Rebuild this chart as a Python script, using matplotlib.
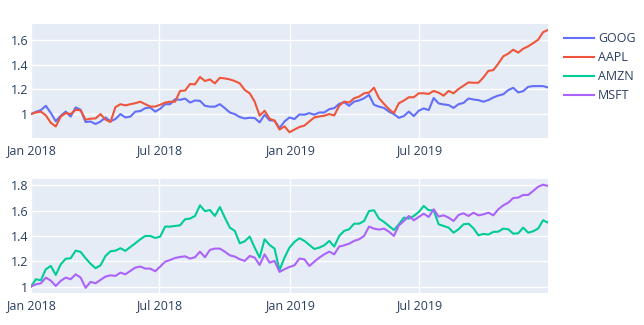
import pandas as pd
import matplotlib.pyplot as plt
import matplotlib.dates as mdates
from matplotlib.ticker import FuncFormatter

plt.rcParams['font.family'] = ['Open Sans', 'DejaVu Sans']

# weekly normalised prices, 2018-01-01 .. 2019-12-30
dates = pd.date_range('2018-01-01', periods=105, freq='7D')

goog = [1.000, 1.018, 1.032, 1.067, 1.009, 0.942, 0.987, 1.020, 0.980, 1.054,
        1.035, 0.936, 0.940, 0.920, 0.940, 0.973, 0.942, 0.960, 1.000, 0.973,
        0.980, 1.020, 1.024, 1.048, 1.053, 1.020, 1.043, 1.080, 1.080, 1.120,
        1.115, 1.125, 1.093, 1.110, 1.107, 1.067, 1.060, 1.060, 1.080, 1.048,
        1.013, 1.000, 0.976, 0.965, 0.970, 0.968, 0.933, 0.995, 0.950, 0.947,
        0.888, 0.940, 0.973, 0.960, 0.997, 0.995, 1.008, 0.995, 1.013, 1.013,
        1.040, 1.048, 1.083, 1.096, 1.067, 1.101, 1.110, 1.128, 1.155, 1.075,
        1.060, 1.050, 1.020, 1.000, 0.970, 0.984, 1.020, 0.984, 1.027, 1.046,
        1.032, 1.130, 1.086, 1.078, 1.073, 1.050, 1.080, 1.090, 1.126, 1.118,
        1.113, 1.100, 1.113, 1.134, 1.150, 1.160, 1.194, 1.212, 1.175, 1.185,
        1.220, 1.226, 1.226, 1.226, 1.215]

aapl = [1.000, 1.013, 1.020, 0.990, 0.930, 0.900, 0.980, 1.008, 1.000, 1.035,
        1.030, 0.955, 0.963, 0.965, 1.000, 0.955, 0.936, 1.056, 1.080, 1.070,
        1.080, 1.088, 1.100, 1.080, 1.061, 1.061, 1.075, 1.093, 1.100, 1.100,
        1.187, 1.190, 1.243, 1.240, 1.300, 1.267, 1.280, 1.248, 1.293, 1.288,
        1.280, 1.267, 1.248, 1.195, 1.168, 1.101, 0.987, 1.027, 0.963, 0.947,
        0.875, 0.901, 0.853, 0.875, 0.896, 0.907, 0.941, 0.973, 0.981, 0.987,
        1.000, 0.989, 1.067, 1.101, 1.093, 1.128, 1.141, 1.168, 1.173, 1.213,
        1.128, 1.083, 1.040, 1.008, 1.088, 1.109, 1.136, 1.136, 1.168, 1.168,
        1.163, 1.187, 1.173, 1.149, 1.187, 1.168, 1.203, 1.229, 1.256, 1.253,
        1.253, 1.296, 1.349, 1.355, 1.408, 1.467, 1.488, 1.520, 1.496, 1.528,
        1.547, 1.573, 1.600, 1.661, 1.680]

amzn = [1.000, 1.058, 1.050, 1.137, 1.163, 1.092, 1.176, 1.220, 1.224, 1.284,
        1.274, 1.224, 1.180, 1.145, 1.168, 1.242, 1.279, 1.284, 1.303, 1.282,
        1.313, 1.342, 1.374, 1.400, 1.400, 1.384, 1.395, 1.474, 1.474, 1.479,
        1.484, 1.532, 1.537, 1.558, 1.642, 1.596, 1.605, 1.558, 1.629, 1.545,
        1.466, 1.440, 1.342, 1.358, 1.395, 1.308, 1.229, 1.374, 1.329, 1.300,
        1.129, 1.229, 1.308, 1.353, 1.382, 1.361, 1.329, 1.297, 1.308, 1.326,
        1.361, 1.316, 1.400, 1.440, 1.453, 1.497, 1.497, 1.518, 1.597, 1.603,
        1.537, 1.511, 1.479, 1.447, 1.492, 1.545, 1.537, 1.558, 1.589, 1.637,
        1.603, 1.603, 1.492, 1.479, 1.466, 1.426, 1.453, 1.492, 1.497, 1.461,
        1.405, 1.416, 1.411, 1.432, 1.434, 1.458, 1.453, 1.418, 1.421, 1.466,
        1.426, 1.437, 1.458, 1.524, 1.505]

msft = [1.000, 1.018, 1.026, 1.071, 1.047, 1.005, 1.045, 1.071, 1.058, 1.097,
        1.071, 0.990, 1.037, 1.026, 1.053, 1.079, 1.089, 1.084, 1.110, 1.097,
        1.124, 1.150, 1.158, 1.142, 1.142, 1.121, 1.158, 1.197, 1.210, 1.226,
        1.234, 1.239, 1.221, 1.232, 1.276, 1.232, 1.290, 1.300, 1.300, 1.276,
        1.247, 1.237, 1.216, 1.203, 1.242, 1.229, 1.171, 1.255, 1.189, 1.203,
        1.116, 1.137, 1.155, 1.168, 1.221, 1.216, 1.163, 1.197, 1.229, 1.255,
        1.276, 1.255, 1.316, 1.326, 1.339, 1.361, 1.374, 1.400, 1.474, 1.458,
        1.450, 1.458, 1.434, 1.400, 1.484, 1.518, 1.558, 1.524, 1.550, 1.576,
        1.550, 1.611, 1.553, 1.563, 1.545, 1.518, 1.566, 1.579, 1.558, 1.584,
        1.563, 1.571, 1.584, 1.563, 1.611, 1.642, 1.663, 1.700, 1.703, 1.724,
        1.724, 1.755, 1.789, 1.805, 1.795]

colors = {'GOOG': '#636EFA', 'AAPL': '#EF553B', 'AMZN': '#00CC96', 'MSFT': '#AB63FA'}
text_col = '#2a3f5f'

fig = plt.figure(figsize=(6.44, 3.25), dpi=100)
ax1 = fig.add_axes([0.048, 0.575, 0.803, 0.351])
ax2 = fig.add_axes([0.048, 0.098, 0.803, 0.350])

lines = []
lines += ax1.plot(dates, goog, color=colors['GOOG'], lw=1.5, label='GOOG')
lines += ax1.plot(dates, aapl, color=colors['AAPL'], lw=1.5, label='AAPL')
lines += ax2.plot(dates, amzn, color=colors['AMZN'], lw=1.5, label='AMZN')
lines += ax2.plot(dates, msft, color=colors['MSFT'], lw=1.5, label='MSFT')

xticks = pd.to_datetime(['2018-01-01', '2018-07-01', '2019-01-01', '2019-07-01'])
fmt = FuncFormatter(lambda v, p: ('%g' % round(v, 1)))

for ax, lim, yt in [(ax1, (0.806, 1.727), [1, 1.2, 1.4, 1.6]),
                    (ax2, (0.948, 1.847), [1, 1.2, 1.4, 1.6, 1.8])]:
    ax.set_facecolor('#E5ECF6')
    ax.set_xlim(dates[0], dates[-1])
    ax.set_ylim(*lim)
    ax.set_xticks(xticks)
    ax.xaxis.set_major_formatter(mdates.DateFormatter('%b %Y'))
    ax.set_yticks(yt)
    ax.yaxis.set_major_formatter(fmt)
    ax.grid(True, color='white', lw=1)
    ax.set_axisbelow(True)
    for s in ax.spines.values():
        s.set_visible(False)
    ax.tick_params(length=0, colors=text_col, labelsize=9)
    ax.tick_params(axis='y', pad=2)
    ax.tick_params(axis='x', pad=4)

fig.legend(handles=lines, loc='upper left', bbox_to_anchor=(0.858, 0.935),
           frameon=False, fontsize=9, handlelength=2.4, handletextpad=0.35,
           labelspacing=0.48, labelcolor=text_col)

fig.savefig('out.png', dpi=100)
